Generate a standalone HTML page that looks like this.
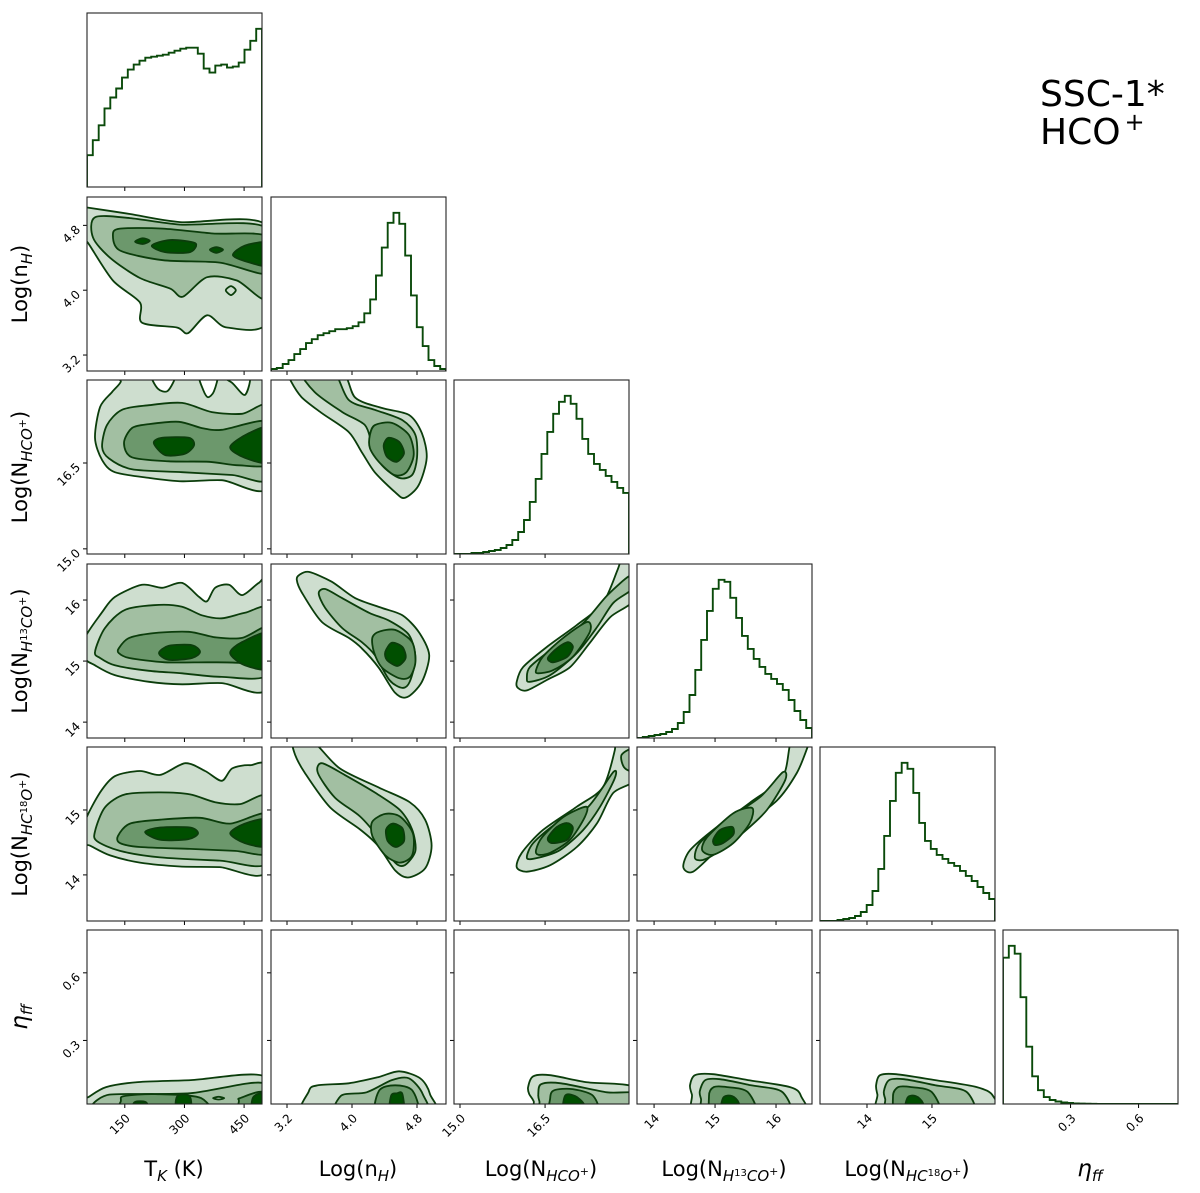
<!DOCTYPE html>
<html><head><meta charset="utf-8"><title>Corner plot SSC-1* HCO+</title>
<style>
html,body{margin:0;padding:0;background:#fff;}
svg{display:block;font-family:"DejaVu Sans","Liberation Sans",sans-serif;}
</style></head>
<body>
<svg id="chart" width="1200" height="1193" viewBox="0 0 1200 1193" xmlns="http://www.w3.org/2000/svg">
<rect x="0" y="0" width="1200" height="1193" fill="#fff"/>
<text x="1040" y="106" font-size="36" fill="#000">SSC-1*</text>
<text x="1040" y="144" font-size="36" fill="#000">HCO<tspan dx="4" dy="-14" font-size="24">+</tspan></text>
<g id="plots"></g>
<g id="labels">
<text x="174" y="1176" font-size="21" text-anchor="middle">T<tspan dy="5" font-size="15" font-style="italic">K</tspan><tspan dy="-5"> (K)</tspan></text>
<text x="358" y="1176" font-size="21" text-anchor="middle">Log(n<tspan dy="5" font-size="15" font-style="italic">H</tspan><tspan dy="-5">)</tspan></text>
<text x="541" y="1176" font-size="21" text-anchor="middle">Log(N<tspan dy="5" font-size="15" font-style="italic">HCO</tspan><tspan dy="-6" font-size="11">+</tspan><tspan dy="1">)</tspan></text>
<text x="724" y="1176" font-size="21" text-anchor="middle">Log(N<tspan dy="5" font-size="15" font-style="italic">H</tspan><tspan dy="-5" font-size="10">13</tspan><tspan dy="5" font-size="15" font-style="italic">CO</tspan><tspan dy="-6" font-size="11">+</tspan><tspan dy="1">)</tspan></text>
<text x="907" y="1176" font-size="21" text-anchor="middle">Log(N<tspan dy="5" font-size="15" font-style="italic">HC</tspan><tspan dy="-5" font-size="10">18</tspan><tspan dy="5" font-size="15" font-style="italic">O</tspan><tspan dy="-6" font-size="11">+</tspan><tspan dy="1">)</tspan></text>
<text x="1090" y="1176" font-size="23" text-anchor="middle" font-style="italic">η<tspan dy="5" font-size="15">ff</tspan></text>
<text transform="translate(27,284) rotate(-90)" font-size="21" text-anchor="middle">Log(n<tspan dy="5" font-size="15" font-style="italic">H</tspan><tspan dy="-5">)</tspan></text>
<text transform="translate(27,467) rotate(-90)" font-size="21" text-anchor="middle">Log(N<tspan dy="5" font-size="15" font-style="italic">HCO</tspan><tspan dy="-6" font-size="11">+</tspan><tspan dy="1">)</tspan></text>
<text transform="translate(27,651) rotate(-90)" font-size="21" text-anchor="middle">Log(N<tspan dy="5" font-size="15" font-style="italic">H</tspan><tspan dy="-5" font-size="10">13</tspan><tspan dy="5" font-size="15" font-style="italic">CO</tspan><tspan dy="-6" font-size="11">+</tspan><tspan dy="1">)</tspan></text>
<text transform="translate(27,834) rotate(-90)" font-size="21" text-anchor="middle">Log(N<tspan dy="5" font-size="15" font-style="italic">HC</tspan><tspan dy="-5" font-size="10">18</tspan><tspan dy="5" font-size="15" font-style="italic">O</tspan><tspan dy="-6" font-size="11">+</tspan><tspan dy="1">)</tspan></text>
<text transform="translate(27,1017) rotate(-90)" font-size="23" text-anchor="middle" font-style="italic">η<tspan dy="5" font-size="15">ff</tspan></text>
</g>
</svg>
<script>
// ---- axes / data ----
const paramNames = ['tk','nh','nhco','nh13co','nhc18o','eta'];
const xRange = [[55,495],[3.003,5.157],[14.894,17.98],[13.72,16.59],[13.277,15.97],[0.002,0.774]];
const yRange = [[55,495],[3.003,5.15],[14.91,17.95],[13.74,16.59],[13.29,15.97],[0.018,0.79]];
const ticksTK = [150,300,450];
const ticksNH = [3.2,4.0,4.8];
const ticksHCO = [15.0,16.5];
const ticksH13 = [14,15,16];
const ticksHC18 = [14,15];
const ticksEta = [0.3,0.6];
const tickLabelsTK = ['150','300','450'];
const tickLabelsNH = ['3.2','4.0','4.8'];
const tickLabelsHCO = ['15.0','16.5'];
const tickLabelsH13 = ['14','15','16'];
const tickLabelsHC18 = ['14','15'];
const tickLabelsEta = ['0.3','0.6'];

const histTK = [32,47,62,79,90,99,110,118,123,127,130,131,132,133,135,137,139,140,140,134,119,115,122,123,120,121,125,138,147,159];
const histNH = [2,3,7,11,17,22,28,32,36,38,40,42,42,43,45,49,58,72,96,124,149,159,148,116,76,44,25,11,5,2];
const histHCO = [0,0,0,1,1,2,3,4,6,9,14,22,34,52,75,100,122,140,152,158,150,135,115,100,90,84,78,72,66,61];
const histH13 = [0,1,2,3,4,6,9,15,26,43,68,98,127,149,158,156,140,120,102,89,79,71,64,59,54,48,38,27,18,10];
const histHC18 = [0,0,0,1,2,3,5,9,16,30,52,85,120,148,158,152,128,98,80,72,66,62,58,55,50,45,40,34,28,22];
const histEta = [148,160,152,108,58,28,14,7,4,2.5,1.5,1,0.6,0.4,0.3,0.2,0.1,0.1,0,0,0,0,0,0,0,0,0,0,0,0];

const contNH_TK = [
 [[[50,5.02],[55,5.02],[163,4.94],[289,4.84],[510,4.79],[510,3.62],[407,3.54],[357,3.69],[309,3.47],[281,3.54],[193,3.60],[188,3.85],[120,4.12],[58,4.58],[50,4.6]]],
 [[[75,4.90],[163,4.89],[289,4.81],[510,4.76],[510,3.90],[432,4.12],[357,4.16],[296,3.92],[264,4.02],[188,4.15],[113,4.40],[70,4.65]]],
 [[[120,4.68],[138,4.76],[246,4.76],[372,4.70],[510,4.66],[510,4.21],[389,4.34],[246,4.37],[138,4.49]]],
 [[[176,4.6],[195,4.64],[213,4.61],[195,4.57]],[[218,4.55],[264,4.62],[327,4.58],[314,4.47],[251,4.47]],[[364,4.5],[380,4.53],[397,4.5],[380,4.46]],[[422,4.43],[452,4.55],[510,4.58],[510,4.31],[465,4.34]]]
];
const islandNH_TK = [[[404,4.0],[417,4.05],[429,4.0],[417,3.94]]];

const contHCO_TK = [
 [[[75,16.94],[88,17.48],[118,17.74],[140,17.92],[140,18.12],[515,18.12],[515,16.11],[394,16.2],[294,16.18],[211,16.24],[125,16.34],[93,16.55]]],
 [[[93,16.78],[105,17.16],[143,17.43],[211,17.51],[294,17.55],[369,17.39],[445,17.36],[515,17.48],[515,16.24],[420,16.29],[294,16.34],[168,16.39],[110,16.58]]],
 [[[148,16.85],[168,17.11],[211,17.18],[286,17.22],[344,17.11],[394,17.08],[515,17.22],[515,16.5],[437,16.46],[362,16.52],[261,16.53],[168,16.6]]],
 [[[223,16.85],[244,16.94],[311,16.94],[324,16.81],[301,16.66],[251,16.64]],[[415,16.78],[462,17.02],[515,17.11],[515,16.52],[452,16.59]]]
];
const notchHCO_TK = [[[218,18.05],[233,17.8],[258,17.76],[276,18.05]],[[337,18.05],[347,17.78],[359,17.65],[374,17.75],[382,18.05]],[[389,18.05],[420,17.9],[452,17.69],[462,18.05]]];

const contHCO_NH = [
 [[[3.2,18.12],[3.24,17.95],[3.38,17.65],[3.63,17.37],[3.96,17.04],[4.12,16.69],[4.28,16.34],[4.53,15.99],[4.65,15.89],[4.82,16.11],[4.92,16.59],[4.86,17.02],[4.70,17.34],[4.37,17.46],[4.04,17.64],[3.85,18.12]]],
 [[[3.37,18.12],[3.54,17.74],[3.88,17.39],[4.16,17.16],[4.25,16.81],[4.37,16.46],[4.58,16.24],[4.74,16.29],[4.8,16.59],[4.78,16.99],[4.62,17.25],[4.28,17.43],[3.96,17.6],[3.76,18.12]]],
 [[[4.22,16.99],[4.28,17.16],[4.49,17.2],[4.70,16.99],[4.76,16.64],[4.67,16.34],[4.52,16.29],[4.33,16.52],[4.22,16.76]]],
 [[[4.39,16.81],[4.45,16.94],[4.58,16.87],[4.64,16.67],[4.55,16.52],[4.43,16.61]]]
];

const contH13_TK = [
 [[[50,15.38],[93,15.80],[125,16.05],[193,16.25],[244,16.2],[294,16.28],[337,16.05],[357,15.98],[377,16.2],[412,16.25],[445,16.08],[487,16.28],[510,16.28],[510,14.57],[394,14.64],[294,14.62],[211,14.66],[125,14.77],[75,14.93],[50,15.05]]],
 [[[75,15.15],[100,15.54],[151,15.84],[236,15.92],[294,15.89],[344,15.75],[394,15.7],[452,15.79],[515,15.84],[515,14.8],[394,14.74],[294,14.8],[211,14.84],[125,14.93],[88,15.05]]],
 [[[135,15.21],[161,15.38],[226,15.46],[311,15.48],[377,15.39],[445,15.38],[515,15.56],[515,14.9],[437,14.97],[362,14.98],[251,14.98],[161,15.05],[135,15.13]]],
 [[[236,15.13],[261,15.25],[319,15.26],[339,15.15],[319,15.05],[261,15.02]],[[415,15.13],[445,15.31],[515,15.46],[515,14.89],[452,14.93]]]
];

const contH13_NH = [
 [[[3.35,16.41],[3.47,16.46],[3.75,16.3],[4.04,16.03],[4.37,15.87],[4.62,15.75],[4.82,15.48],[4.95,15.1],[4.86,14.66],[4.68,14.41],[4.53,14.48],[4.33,14.89],[4.12,15.21],[3.96,15.38],[3.63,15.64],[3.38,16.13],[3.32,16.33]]],
 [[[3.59,16.11],[3.67,16.18],[3.88,16.03],[4.21,15.79],[4.46,15.66],[4.70,15.43],[4.78,15.05],[4.71,14.66],[4.62,14.56],[4.46,14.69],[4.28,15.1],[4.12,15.31],[3.88,15.54],[3.67,15.87]]],
 [[[4.25,15.38],[4.33,15.48],[4.53,15.51],[4.74,15.31],[4.78,14.98],[4.71,14.74],[4.58,14.72],[4.37,14.89],[4.27,15.15]]],
 [[[4.41,15.15],[4.49,15.3],[4.62,15.23],[4.66,15.05],[4.56,14.92],[4.43,15.02]]]
];

const contH13_HCO = [
 [[[16.0,14.66],[16.11,14.9],[16.53,15.23],[17.06,15.59],[17.52,15.95],[17.78,16.5],[17.9,16.8],[18.1,16.8],[18.1,16.05],[17.65,15.72],[17.29,15.3],[16.94,14.9],[16.53,14.69],[16.18,14.52],[16.02,14.56]]],
 [[[16.18,14.72],[16.23,14.9],[16.59,15.18],[17.17,15.62],[17.6,16.08],[18.0,16.4],[18.1,16.3],[18.0,16.15],[17.7,15.95],[17.42,15.56],[17.06,15.13],[16.59,14.77],[16.23,14.66]]],
 [[[16.34,14.85],[16.46,15.07],[16.82,15.38],[17.24,15.64],[17.29,15.48],[16.99,15.07],[16.64,14.85],[16.38,14.8]]],
 [[[16.55,15.05],[16.71,15.21],[16.9,15.31],[16.99,15.23],[16.89,15.07],[16.64,14.98]]]
];

const contHC18_TK = [
 [[[50,14.82],[88,15.27],[125,15.52],[188,15.6],[239,15.54],[302,15.72],[352,15.6],[394,15.45],[420,15.64],[465,15.69],[510,15.6],[510,14.07],[389,14.12],[289,14.13],[188,14.19],[113,14.3],[63,14.45],[50,14.49]]],
 [[[75,14.67],[100,15.04],[151,15.24],[239,15.27],[314,15.24],[377,15.12],[440,15.09],[510,15.19],[510,14.19],[389,14.22],[239,14.27],[138,14.37],[80,14.52]]],
 [[[133,14.6],[163,14.79],[239,14.85],[339,14.88],[415,14.79],[510,14.94],[510,14.34],[427,14.37],[314,14.4],[188,14.43],[138,14.49]]],
 [[[201,14.66],[239,14.73],[314,14.73],[334,14.64],[309,14.55],[239,14.54]],[[415,14.64],[452,14.79],[510,14.85],[510,14.45],[452,14.49]]]
];

const contHC18_NH = [
 [[[3.28,16.05],[3.52,16.05],[3.85,15.64],[4.34,15.34],[4.71,15.12],[4.9,14.85],[4.98,14.45],[4.9,14.1],[4.69,13.96],[4.53,14.07],[4.32,14.45],[4.1,14.7],[3.73,15.04],[3.42,15.57],[3.3,15.85]]],
 [[[3.63,15.72],[3.91,15.54],[4.28,15.27],[4.59,15.0],[4.74,14.7],[4.78,14.37],[4.65,14.15],[4.53,14.19],[4.34,14.55],[4.1,14.9],[3.79,15.19],[3.58,15.57]]],
 [[[4.25,14.82],[4.41,14.94],[4.59,14.9],[4.75,14.64],[4.74,14.3],[4.59,14.19],[4.41,14.3],[4.25,14.6]]],
 [[[4.42,14.7],[4.5,14.79],[4.62,14.72],[4.64,14.52],[4.54,14.43],[4.44,14.52]]]
];

const contHC18_HCO = [
 [[[16.0,14.12],[16.09,14.34],[16.46,14.69],[17.06,15.05],[17.52,15.35],[17.73,15.92],[17.73,16.1],[18.1,16.1],[18.1,15.49],[17.7,15.26],[17.42,14.8],[17.06,14.43],[16.59,14.15],[16.18,14.05]]],
 [[[16.18,14.26],[16.29,14.49],[16.71,14.8],[17.24,15.03],[17.7,15.58],[17.73,15.49],[17.47,15.05],[17.17,14.69],[16.76,14.38],[16.36,14.26]],[[17.85,15.85],[18.1,15.95],[18.1,15.6],[17.9,15.65]]],
 [[[16.34,14.38],[16.45,14.58],[16.82,14.89],[17.22,15.05],[17.2,14.89],[16.94,14.54],[16.59,14.34],[16.38,14.31]]],
 [[[16.55,14.57],[16.71,14.74],[16.89,14.8],[16.99,14.72],[16.89,14.54],[16.62,14.49]]]
];

const contHC18_H13 = [
 [[[14.48,14.12],[14.59,14.38],[15.03,14.74],[15.57,15.11],[16.11,15.51],[16.26,16.1],[16.55,16.1],[16.51,15.95],[16.34,15.57],[16.02,15.15],[15.46,14.74],[15.03,14.38],[14.64,14.05]]],
 [[[14.67,14.26],[14.75,14.49],[15.2,14.85],[15.74,15.2],[16.11,15.58],[16.15,15.46],[15.85,15.0],[15.46,14.65],[15.03,14.34],[14.8,14.23]]],
 [[[14.79,14.38],[14.87,14.58],[15.3,14.95],[15.61,15.03],[15.57,14.8],[15.3,14.49],[14.97,14.31]]],
 [[[14.97,14.54],[15.08,14.69],[15.28,14.74],[15.3,14.62],[15.13,14.49],[15.0,14.46]]]
];

const contEta_TK = [
 [[[50,-0.05],[50,0.04],[59,0.049],[103,0.093],[183,0.115],[316,0.124],[500,0.141],[500,-0.05]]],
 [[[68,-0.05],[68,0.013],[98,0.053],[138,0.062],[316,0.066],[500,0.11],[500,-0.05]]],
 [[[138,-0.05],[140,0.03],[148,0.053],[226,0.062],[342,0.044],[357,-0.05]],[[435,-0.05],[437,0.03],[440,0.044],[500,0.07],[500,-0.05]]],
 [[[168,-0.05],[172,0.02],[188,0.03],[206,0.02],[208,-0.05]],[[281,-0.05],[281,0.05],[314,0.05],[314,-0.05]],[[470,-0.05],[472,0.045],[500,0.06],[500,-0.05]]]
];
const islandEta_TK = [[[372,0.044],[386,0.05],[400,0.044],[386,0.038]]];

const contEta_NH = [
 [[[3.45,-0.05],[3.47,0.075],[3.58,0.101],[3.96,0.11],[4.32,0.137],[4.58,0.163],[4.84,0.132],[4.96,0.062],[4.97,-0.05]]],
 [[[3.84,-0.05],[3.86,0.053],[4.18,0.07],[4.49,0.124],[4.7,0.132],[4.87,0.062],[4.9,-0.05]]],
 [[[4.3,-0.05],[4.33,0.075],[4.53,0.101],[4.75,0.075],[4.81,-0.05]]],
 [[[4.46,-0.05],[4.48,0.053],[4.55,0.065],[4.62,0.062],[4.64,-0.05]]]
];

const contEta_HCO = [
 [[[16.41,-0.05],[16.3,0.03],[16.22,0.062],[16.2,0.093],[16.29,0.141],[16.59,0.146],[17.22,0.115],[18.1,0.09],[18.1,-0.05]]],
 [[[16.53,-0.05],[16.4,0.03],[16.38,0.062],[16.43,0.106],[16.78,0.11],[17.59,0.07],[18.1,0.062],[18.1,-0.05]]],
 [[[16.62,-0.05],[16.59,0.044],[16.66,0.079],[16.98,0.084],[17.35,0.053],[17.43,-0.05]]],
 [[[16.83,-0.05],[16.85,0.053],[17.03,0.053],[17.19,0.015],[17.2,-0.05]]]
];

const contEta_H13 = [
 [[[14.75,-0.05],[14.62,0.06],[14.59,0.101],[14.67,0.146],[14.97,0.15],[15.54,0.124],[16.23,0.093],[16.41,0.053],[16.43,-0.05]]],
 [[[14.87,-0.05],[14.77,0.04],[14.75,0.075],[14.84,0.124],[15.08,0.128],[15.59,0.101],[16.11,0.07],[16.18,-0.05]]],
 [[[14.98,-0.05],[14.9,0.053],[14.98,0.093],[15.2,0.093],[15.54,0.07],[15.69,-0.05]]],
 [[[15.1,-0.05],[15.13,0.044],[15.28,0.053],[15.39,0.022],[15.41,-0.05]]]
];

const contEta_HC18 = [
 [[[14.26,-0.05],[14.16,0.06],[14.14,0.101],[14.2,0.146],[14.45,0.15],[15.05,0.124],[15.69,0.093],[15.94,0.053],[15.97,-0.05]]],
 [[[14.37,-0.05],[14.28,0.04],[14.26,0.075],[14.34,0.124],[14.57,0.128],[15.05,0.101],[15.54,0.07],[15.6,-0.05]]],
 [[[14.48,-0.05],[14.4,0.053],[14.48,0.093],[14.68,0.093],[15.0,0.07],[15.14,-0.05]]],
 [[[14.58,-0.05],[14.62,0.044],[14.75,0.053],[14.86,0.022],[14.88,-0.05]]]
];

// ---- layout ----
const colLeft = [87,271,454,637,820,1003];
const rowTop = [13,197,380,564,747,930];
const PW = 175, PH = 174;
const levelFill = ['#cedecf','#a2bfa2','#6c986c','#004f00'];
const lineColor = '#0b3d0b';
const allTicks = [ticksTK,ticksNH,ticksHCO,ticksH13,ticksHC18,ticksEta];
const allTickLabels = [tickLabelsTK,tickLabelsNH,tickLabelsHCO,tickLabelsH13,tickLabelsHC18,tickLabelsEta];
const allHists = [histTK,histNH,histHCO,histH13,histHC18,histEta];
const panels2d = [
 {c:0,r:1,d:contNH_TK,isl:islandNH_TK},
 {c:0,r:2,d:contHCO_TK,notch:notchHCO_TK},
 {c:1,r:2,d:contHCO_NH},
 {c:0,r:3,d:contH13_TK},{c:1,r:3,d:contH13_NH},{c:2,r:3,d:contH13_HCO},
 {c:0,r:4,d:contHC18_TK},{c:1,r:4,d:contHC18_NH},{c:2,r:4,d:contHC18_HCO},{c:3,r:4,d:contHC18_H13},
 {c:0,r:5,d:contEta_TK,isl:islandEta_TK},{c:1,r:5,d:contEta_NH},{c:2,r:5,d:contEta_HCO},{c:3,r:5,d:contEta_H13},{c:4,r:5,d:contEta_HC18}
];

const NS='http://www.w3.org/2000/svg';
const root=document.getElementById('plots');
function mk(tag,attrs,parent){const e=document.createElementNS(NS,tag);for(const k in attrs)e.setAttribute(k,attrs[k]);(parent||root).appendChild(e);return e;}
function sx(p,v,c){return colLeft[c]+(v-xRange[p][0])/(xRange[p][1]-xRange[p][0])*PW;}
function sy(p,v,r){return rowTop[r]+PH-(v-yRange[p][0])/(yRange[p][1]-yRange[p][0])*PH;}
function smooth(pts){
  const n=pts.length;let d='M'+pts[0][0].toFixed(1)+','+pts[0][1].toFixed(1);
  const k=7;
  for(let i=0;i<n;i++){
    const p0=pts[(i-1+n)%n],p1=pts[i],p2=pts[(i+1)%n],p3=pts[(i+2)%n];
    const c1=[p1[0]+(p2[0]-p0[0])/k,p1[1]+(p2[1]-p0[1])/k];
    const c2=[p2[0]-(p3[0]-p1[0])/k,p2[1]-(p3[1]-p1[1])/k];
    d+='C'+c1[0].toFixed(1)+','+c1[1].toFixed(1)+' '+c2[0].toFixed(1)+','+c2[1].toFixed(1)+' '+p2[0].toFixed(1)+','+p2[1].toFixed(1);
  }
  return d+'Z';
}
const defs=mk('defs',{});
let clipId=0;
function frame(c,r,name){
  const g=mk('g',{});
  
  
  const id='clip'+(clipId++);
  const cp=mk('clipPath',{id:id},defs);
  mk('rect',{x:colLeft[c],y:rowTop[r],width:PW,height:PH},cp);
  const inner=mk('g',{'clip-path':'url(#'+id+')'},g);
  return {g,inner};
}
function drawPoly(parent,poly,px,py,c,r,fill,name){
  const pts=poly.map(q=>[sx(px,q[0],c),sy(py,q[1],r)]);
  const path=mk('path',{d:smooth(pts),fill:fill,stroke:lineColor,'stroke-width':1.8,'stroke-linejoin':'round'},parent);
  
  
}
function drawTicks(g,c,r,px,py,isDiag){
  allTicks[px].forEach((t,i)=>{
    const x=sx(px,t,c);
    const tk=mk('line',{x1:x,x2:x,y1:rowTop[r]+PH,y2:rowTop[r]+PH+4,stroke:'#000','stroke-width':1},g);
    
    
    if(r===5){
      const lb=mk('text',{x:0,y:0,'font-size':12,'text-anchor':'end',transform:'translate('+(x+6)+','+(rowTop[r]+PH+15)+') rotate(-45)'},g);
      lb.textContent=allTickLabels[px][i];
      
      
    }
  });
  if(!isDiag){
    allTicks[py].forEach((t,i)=>{
      const y=sy(py,t,r);
      const tk=mk('line',{x1:colLeft[c]-4,x2:colLeft[c],y1:y,y2:y,stroke:'#000','stroke-width':1},g);
      
      
      if(c===0){
        const lb=mk('text',{x:0,y:0,'font-size':12,'text-anchor':'end',transform:'translate('+(colLeft[c]-6)+','+(y+5)+') rotate(-45)'},g);
        lb.textContent=allTickLabels[py][i];
        
        
      }
    });
  }
  const b=mk('rect',{x:colLeft[c],y:rowTop[r],width:PW,height:PH,fill:'none',stroke:'#222','stroke-width':1.1},g);
  
  
}
allHists.forEach((h,i)=>{
  const f=frame(i,i,'hist-'+paramNames[i]);
  const n=h.length, lo=xRange[i][0], hi=xRange[i][1];
  const ymax=Math.max(...h)*1.1;
  const base=rowTop[i]+PH;
  const yv=v=>base-v/ymax*PH;
  let d='M'+sx(i,lo,i).toFixed(1)+','+base;
  for(let k=0;k<n;k++){
    const x0=sx(i,lo+k*(hi-lo)/n,i), x1=sx(i,lo+(k+1)*(hi-lo)/n,i);
    d+='L'+x0.toFixed(1)+','+yv(h[k]).toFixed(1)+'L'+x1.toFixed(1)+','+yv(h[k]).toFixed(1);
  }
  d+='L'+sx(i,hi,i).toFixed(1)+','+base;
  const p=mk('path',{d:d,fill:'none',stroke:'#0a4a0a','stroke-width':1.9},f.inner);
  
  
  drawTicks(f.g,i,i,i,i,true);
});
panels2d.forEach(P=>{
  const f=frame(P.c,P.r,'contour-'+paramNames[P.r]+'-vs-'+paramNames[P.c]);
  P.d.forEach((lev,li)=>{
    lev.forEach(poly=>drawPoly(f.inner,poly,P.c,P.r,P.c,P.r,levelFill[li],'contour-level-'+(li+1)));
    if(li===0&&P.notch)P.notch.forEach(poly=>drawPoly(f.inner,poly,P.c,P.r,P.c,P.r,'#ffffff','contour-gap'));
    if(li===1&&P.isl)P.isl.forEach(poly=>drawPoly(f.inner,poly,P.c,P.r,P.c,P.r,levelFill[0],'contour-island'));
  });
  drawTicks(f.g,P.c,P.r,P.c,P.r,false);
});
</script>
</body></html>
